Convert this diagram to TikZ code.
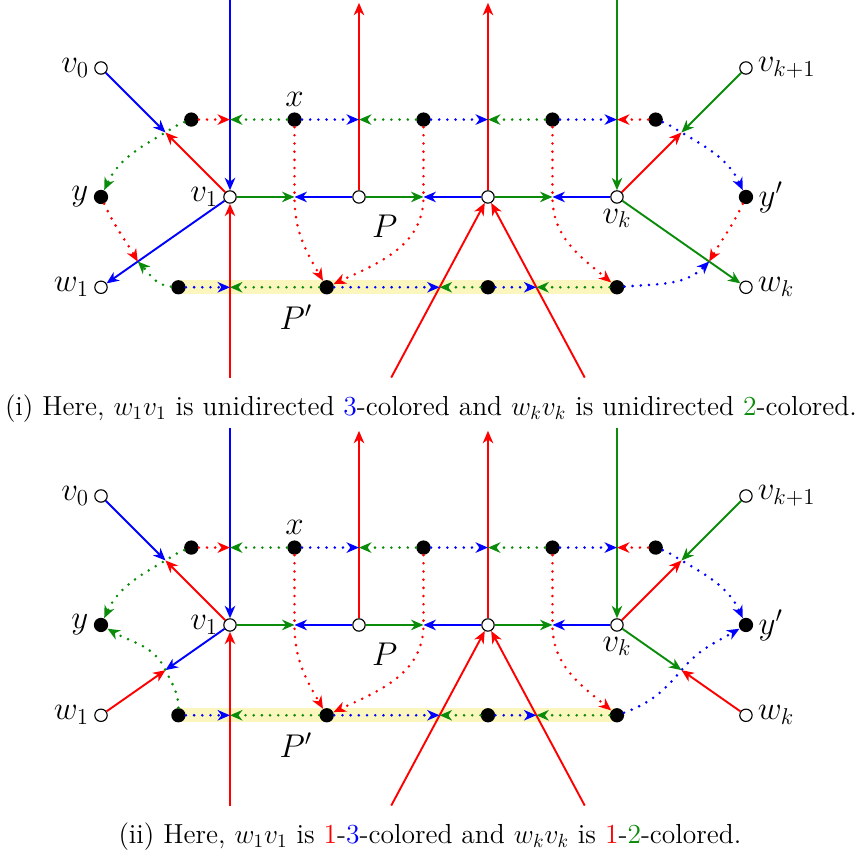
\documentclass[tikz,border=0pt]{standalone}
\usetikzlibrary{calc,arrows.meta,backgrounds}
\definecolor{cGreen}{RGB}{10,140,10}
\definecolor{cHigh}{RGB}{250,246,190}

\tikzset{
  vtx/.style={circle,draw,fill=white,inner sep=0pt,minimum size=6.5pt,line width=0.6pt},
  dot/.style={circle,fill=black,inner sep=0pt,minimum size=7.5pt},
  arr/.style={line width=1pt,-{Stealth[length=6.5pt,width=5.5pt,inset=2pt]}},
  dt/.style={arr,line cap=round,dash pattern=on 0pt off 4.3pt,line width=1.5pt},
  hl/.style={line width=7.5pt,cHigh},
  lbl/.style={font=\fontsize{18}{22}\selectfont,inner sep=2.5pt},
  captext/.style={font=\fontsize{14.45}{17}\selectfont},
}

% the part that both panels share
\newcommand{\basegraph}{%
  \node[vtx,label={[lbl]left:$v_0$}] (v0) at (-1,1) {};
  \node[vtx,label={[lbl]right:$v_{k+1}$}] (vk1) at (4,1) {};
  \node[vtx,label={[lbl]left:$v_1$}] (v1) at (0,0) {};
  \node[vtx] (p) at (1,0) {};
  \node[vtx] (m) at (2,0) {};
  \node[vtx,label={[lbl]below:$v_k$}] (vk) at (3,0) {};
  \node[vtx,label={[lbl]left:$w_1$}] (w1) at (-1,-.7) {};
  \node[vtx,label={[lbl]right:$w_k$}] (wk) at (4,-.7) {};
  \node[dot,label={[lbl]left:$y$}] (y) at (-1,0) {};
  \node[dot,label={[lbl]right:$y'$}] (y2) at (4,0) {};
  \node[dot] (a0) at (-.3,.6) {};
  \node[dot,label={[lbl]above:$x$}] (x) at (.5,.6) {};
  \node[dot] (a2) at (1.5,.6) {};
  \node[dot] (a3) at (2.5,.6) {};
  \node[dot] (a4) at (3.3,.6) {};
  \node[dot] (b0) at (-.4,-.7) {};
  \node[dot] (b1) at (.75,-.7) {};
  \node[dot] (b2) at (2,-.7) {};
  \node[dot] (b3) at (3,-.7) {};
  \node[lbl] (lP) at (1.2,-.23) {$P$};
  \node[lbl] (lP2) at (.51,-.93) {$P'$};
  \begin{scope}[on background layer]
    \draw[hl] (b0.center) -- (b3.center);
  \end{scope}
  % free ends and crossings
  \coordinate (t0) at (0,1.53); \coordinate (t1) at (1,1.505);
  \coordinate (t2) at (2,1.505); \coordinate (t3) at (3,1.53);
  \coordinate (s0) at (0,-1.4); \coordinate (s1) at (1.25,-1.4);
  \coordinate (s2) at (2.75,-1.4);
  \coordinate (u1) at ($(v0)!.5!(v1)$); \coordinate (u2) at ($(vk1)!.5!(vk)$);
  \coordinate (h1) at ($(v1)!.5!(p)$); \coordinate (h2) at ($(p)!.5!(m)$);
  \coordinate (h3) at ($(m)!.5!(vk)$);
  \coordinate (c1) at (v1|-x); \coordinate (c2) at (p|-x);
  \coordinate (c3) at (m|-x); \coordinate (c4) at (vk|-x);
  \coordinate (d1) at (v1|-b0); \coordinate (d2) at ($(s1)!.5!(m)$);
  \coordinate (d3) at ($(s2)!.5!(m)$);
  % solid edges
  \draw[arr,blue] (v0) -- (u1); \draw[arr,red] (v1) -- (u1);
  \draw[arr,cGreen] (vk1) -- (u2); \draw[arr,red] (vk) -- (u2);
  \draw[arr,blue] (t0) -- (v1); \draw[arr,red] (s0) -- (v1);
  \draw[arr,red] (p) -- (t1); \draw[arr,red] (m) -- (t2);
  \draw[arr,cGreen] (t3) -- (vk);
  \draw[arr,red] (s1) -- (m); \draw[arr,red] (s2) -- (m);
  \draw[arr,cGreen] (v1) -- (h1); \draw[arr,blue] (p) -- (h1);
  \draw[arr,cGreen] (p) -- (h2); \draw[arr,blue] (m) -- (h2);
  \draw[arr,cGreen] (m) -- (h3); \draw[arr,blue] (vk) -- (h3);
  % dotted edges
  \draw[dt,red] (a0) -- (c1); \draw[dt,cGreen] (x) -- (c1);
  \draw[dt,blue] (x) -- (c2); \draw[dt,cGreen] (a2) -- (c2);
  \draw[dt,blue] (a2) -- (c3); \draw[dt,cGreen] (a3) -- (c3);
  \draw[dt,blue] (a3) -- (c4); \draw[dt,red] (a4) -- (c4);
  \draw[dt,blue] (b0) -- (d1); \draw[dt,cGreen] (b1) -- (d1);
  \draw[dt,blue] (b1) -- (d2); \draw[dt,cGreen] (b2) -- (d2);
  \draw[dt,blue] (b2) -- (d3); \draw[dt,cGreen] (b3) -- (d3);
  \draw[dt,red] (x) -- (h1) to[out=-90,in=120] (b1);
  \draw[dt,red] (a2) -- (h2) to[out=-90,in=25] (b1);
  \draw[dt,red] (a3) -- (h3) to[out=-90,in=140] (b3);
  \draw[dt,cGreen] (a0) to[out=200,in=30] (u1) to[out=210,in=65] (y);
  \draw[dt,blue] (a4) to[out=-20,in=150] (u2) to[out=-30,in=115] (y2);
}

\begin{document}
\begin{tikzpicture}[x=2.38cm,y=2.38cm]
  \useasboundingbox (-1.783,1.527) rectangle (4.884,-5.116);
  % (i)
  \begin{scope}
    \basegraph
    \coordinate (q1) at ($(v1)!.715!(w1)$);
    \coordinate (q2) at ($(vk)!.715!(wk)$);
    \draw[arr,blue] (v1) -- (w1);
    \draw[arr,cGreen] (vk) -- (wk);
    \draw[dt,red] (y) to[out=-65,in=120] (q1);
    \draw[dt,cGreen] (b0) to[out=175,in=-45] (q1);
    \draw[dt,red] (y2) to[out=-115,in=60] (q2);
    \draw[dt,blue] (b3) to[out=5,in=-135] (q2);
    \node[captext] (capi) at (1.558,-1.643) {(i) Here, $w_1v_1$ is unidirected \textcolor{blue}{3}-colored and $w_kv_k$ is unidirected \textcolor{cGreen}{2}-colored.};
  \end{scope}
  % (ii)
  \begin{scope}[yshift=-3.318*2.38cm]
    \basegraph
    \coordinate (u3) at ($(w1)!.5!(v1)$);
    \coordinate (u4) at ($(wk)!.5!(vk)$);
    \draw[arr,red] (w1) -- (u3); \draw[arr,blue] (v1) -- (u3);
    \draw[arr,red] (wk) -- (u4); \draw[arr,cGreen] (vk) -- (u4);
    \draw[dt,cGreen] (b0) to[out=90,in=-65] (u3) to[out=115,in=-30] (y);
    \draw[dt,blue] (b3) to[out=20,in=-130] (u4) to[out=50,in=-150] (y2);
    \node[captext] (capii) at (1.55,-1.643) {(ii) Here, $w_1v_1$ is \textcolor{red}{1}-\textcolor{blue}{3}-colored and $w_kv_k$ is \textcolor{red}{1}-\textcolor{cGreen}{2}-colored.};
  \end{scope}
\end{tikzpicture}
\end{document}
